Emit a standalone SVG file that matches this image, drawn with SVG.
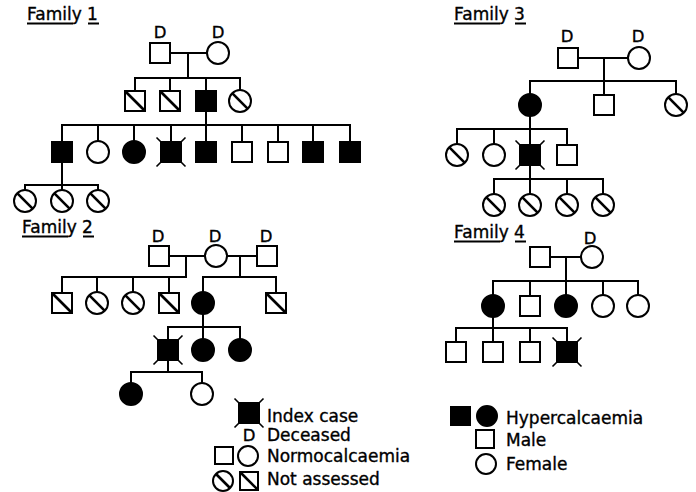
<svg xmlns="http://www.w3.org/2000/svg" xmlns:xlink="http://www.w3.org/1999/xlink" width="696" height="492" viewBox="0 0 696 492">
<style>
text{font-family:"DejaVu Sans",sans-serif;fill:#000;stroke:#000;stroke-width:0.35}
.t{font-size:17px}
.d{font-size:16.5px;text-anchor:middle}
.c line,.u{stroke:#000;stroke-width:2;fill:none}
.s{fill:#fff;stroke:#000;stroke-width:2}
.f{fill:#000;stroke:#000;stroke-width:2}
.h{stroke:#000;stroke-width:2.6}
</style>
<defs>
<g id="sq"><rect class="s" x="-10" y="-10" width="20" height="20"/></g>
<g id="sqf"><rect class="f" x="-10" y="-10" width="20" height="20"/></g>
<g id="sqh"><rect class="s" x="-10" y="-10" width="20" height="20"/><line class="h" x1="-10" y1="-10" x2="10" y2="10"/></g>
<g id="ci"><circle class="s" r="11"/></g>
<g id="cif"><circle class="f" r="11"/></g>
<g id="cih"><circle class="s" r="11"/><line class="h" x1="-7.6" y1="-7.6" x2="7.6" y2="7.6"/></g>
<g id="idx"><rect class="f" x="-10" y="-10" width="20" height="20"/><path d="M-10-10l-4.5-4.5M10-10l4.5-4.5M-10 10l-4.5 4.5M10 10l4.5 4.5" stroke="#000" stroke-width="1.6"/></g>
</defs>

<!-- titles -->
<g id="titles">
<text class="t" x="27" y="20">Family 1</text>
<line class="u" x1="27" y1="23.5" x2="73" y2="23.5"/><line class="u" x1="88" y1="23.5" x2="99" y2="23.5"/>
<text class="t" x="22" y="233">Family 2</text>
<line class="u" x1="22" y1="236.5" x2="68" y2="236.5"/><line class="u" x1="83" y1="236.5" x2="94" y2="236.5"/>
<text class="t" x="454" y="20">Family 3</text>
<line class="u" x1="454" y1="23.5" x2="500" y2="23.5"/><line class="u" x1="515" y1="23.5" x2="526" y2="23.5"/>
<text class="t" x="454" y="238">Family 4</text>
<line class="u" x1="454" y1="241.5" x2="500" y2="241.5"/><line class="u" x1="515" y1="241.5" x2="526" y2="241.5"/>
</g>

<!-- connectors -->
<g id="connectors" class="c">
<!-- Family 1 -->
<line x1="170" y1="53" x2="207" y2="53"/><line x1="188" y1="53" x2="188" y2="78"/>
<line x1="134" y1="78" x2="241" y2="78"/>
<line x1="135" y1="78" x2="135" y2="91"/><line x1="170" y1="78" x2="170" y2="91"/><line x1="206" y1="78" x2="206" y2="91"/><line x1="240" y1="78" x2="240" y2="90"/>
<line x1="206" y1="111" x2="206" y2="125"/>
<line x1="61" y1="125" x2="351" y2="125"/>
<line x1="62" y1="125" x2="62" y2="142"/><line x1="98" y1="125" x2="98" y2="141"/><line x1="134" y1="125" x2="134" y2="141"/><line x1="171" y1="125" x2="171" y2="142"/><line x1="206" y1="125" x2="206" y2="142"/><line x1="242" y1="125" x2="242" y2="142"/><line x1="278" y1="125" x2="278" y2="142"/><line x1="313" y1="125" x2="313" y2="142"/><line x1="350" y1="125" x2="350" y2="142"/>
<line x1="62" y1="162" x2="62" y2="185"/>
<line x1="24" y1="185" x2="99" y2="185"/>
<line x1="25" y1="185" x2="25" y2="190"/><line x1="62" y1="185" x2="62" y2="190"/><line x1="98" y1="185" x2="98" y2="190"/>
<!-- Family 2 -->
<line x1="169" y1="256" x2="205" y2="256"/><line x1="186" y1="256" x2="186" y2="277"/>
<line x1="227" y1="256" x2="257" y2="256"/><line x1="240" y1="256" x2="240" y2="277"/>
<line x1="61" y1="277" x2="187" y2="277"/>
<line x1="62" y1="277" x2="62" y2="293"/><line x1="97" y1="277" x2="97" y2="292"/><line x1="133" y1="277" x2="133" y2="292"/><line x1="169" y1="277" x2="169" y2="293"/>
<line x1="202" y1="277" x2="277" y2="277"/>
<line x1="203" y1="277" x2="203" y2="292"/><line x1="276" y1="277" x2="276" y2="293"/>
<line x1="203" y1="314" x2="203" y2="327"/>
<line x1="167" y1="327" x2="241" y2="327"/>
<line x1="168" y1="327" x2="168" y2="340"/><line x1="203" y1="327" x2="203" y2="339"/><line x1="240" y1="327" x2="240" y2="339"/>
<line x1="168" y1="360" x2="168" y2="372"/>
<line x1="130" y1="372" x2="203" y2="372"/>
<line x1="131" y1="372" x2="131" y2="383"/><line x1="202" y1="372" x2="202" y2="383"/>
<!-- Family 3 -->
<line x1="578" y1="58" x2="628" y2="58"/><line x1="604" y1="58" x2="604" y2="81"/>
<line x1="529" y1="81" x2="677" y2="81"/>
<line x1="530" y1="81" x2="530" y2="94"/><line x1="604" y1="81" x2="604" y2="95"/><line x1="676" y1="81" x2="676" y2="94"/>
<line x1="530" y1="116" x2="530" y2="129"/>
<line x1="456" y1="129" x2="568" y2="129"/>
<line x1="457" y1="129" x2="457" y2="144"/><line x1="494" y1="129" x2="494" y2="144"/><line x1="530" y1="129" x2="530" y2="145"/><line x1="567" y1="129" x2="567" y2="145"/>
<line x1="530" y1="165" x2="530" y2="179"/>
<line x1="493" y1="179" x2="604" y2="179"/>
<line x1="494" y1="179" x2="494" y2="194"/><line x1="530" y1="179" x2="530" y2="194"/><line x1="567" y1="179" x2="567" y2="194"/><line x1="603" y1="179" x2="603" y2="194"/>
<!-- Family 4 -->
<line x1="550" y1="257" x2="581" y2="257"/><line x1="566" y1="257" x2="566" y2="281"/>
<line x1="492" y1="281" x2="639" y2="281"/>
<line x1="493" y1="281" x2="493" y2="295"/><line x1="530" y1="281" x2="530" y2="296"/><line x1="566" y1="281" x2="566" y2="295"/><line x1="603" y1="281" x2="603" y2="295"/><line x1="638" y1="281" x2="638" y2="295"/>
<line x1="493" y1="317" x2="493" y2="328"/>
<line x1="455" y1="328" x2="568" y2="328"/>
<line x1="456" y1="328" x2="456" y2="342"/><line x1="493" y1="328" x2="493" y2="342"/><line x1="530" y1="328" x2="530" y2="342"/><line x1="567" y1="328" x2="567" y2="342"/>
</g>

<!-- Family 1 nodes -->
<g id="f1-father"><use href="#sq" x="160" y="53"/><text class="d" x="160" y="38">D</text></g>
<g id="f1-mother"><use href="#ci" x="218" y="53"/><text class="d" x="218" y="38">D</text></g>
<g id="f1-g2-1"><use href="#sqh" x="135" y="101"/></g>
<g id="f1-g2-2"><use href="#sqh" x="170" y="101"/></g>
<g id="f1-g2-3"><use href="#sqf" x="206" y="101"/></g>
<g id="f1-g2-4"><use href="#cih" x="240" y="101"/></g>
<g id="f1-g3-1"><use href="#sqf" x="62" y="152"/></g>
<g id="f1-g3-2"><use href="#ci" x="98" y="152"/></g>
<g id="f1-g3-3"><use href="#cif" x="134" y="152"/></g>
<g id="f1-g3-4"><use href="#idx" x="171" y="152"/></g>
<g id="f1-g3-5"><use href="#sqf" x="206" y="152"/></g>
<g id="f1-g3-6"><use href="#sq" x="242" y="152"/></g>
<g id="f1-g3-7"><use href="#sq" x="278" y="152"/></g>
<g id="f1-g3-8"><use href="#sqf" x="313" y="152"/></g>
<g id="f1-g3-9"><use href="#sqf" x="350" y="152"/></g>
<g id="f1-g4-1"><use href="#cih" x="25" y="201"/></g>
<g id="f1-g4-2"><use href="#cih" x="62" y="201"/></g>
<g id="f1-g4-3"><use href="#cih" x="98" y="201"/></g>

<!-- Family 2 nodes -->
<g id="f2-father"><use href="#sq" x="159" y="256"/><text class="d" x="158" y="242">D</text></g>
<g id="f2-mother"><use href="#ci" x="216" y="256"/><text class="d" x="215" y="242">D</text></g>
<g id="f2-husband2"><use href="#sq" x="267" y="256"/><text class="d" x="266" y="242">D</text></g>
<g id="f2-g2-1"><use href="#sqh" x="62" y="303"/></g>
<g id="f2-g2-2"><use href="#cih" x="97" y="303"/></g>
<g id="f2-g2-3"><use href="#cih" x="133" y="303"/></g>
<g id="f2-g2-4"><use href="#sqh" x="169" y="303"/></g>
<g id="f2-g2-5"><use href="#cif" x="203" y="303"/></g>
<g id="f2-g2-6"><use href="#sqh" x="276" y="303"/></g>
<g id="f2-g3-1"><use href="#idx" x="168" y="350"/></g>
<g id="f2-g3-2"><use href="#cif" x="203" y="350"/></g>
<g id="f2-g3-3"><use href="#cif" x="240" y="350"/></g>
<g id="f2-g4-1"><use href="#cif" x="131" y="394"/></g>
<g id="f2-g4-2"><use href="#ci" x="202" y="394"/></g>

<!-- Family 3 nodes -->
<g id="f3-father"><use href="#sq" x="568" y="58"/><text class="d" x="567" y="42">D</text></g>
<g id="f3-mother"><use href="#ci" x="639" y="58"/><text class="d" x="638" y="42">D</text></g>
<g id="f3-g2-1"><use href="#cif" x="530" y="105"/></g>
<g id="f3-g2-2"><use href="#sq" x="604" y="105"/></g>
<g id="f3-g2-3"><use href="#cih" x="676" y="105"/></g>
<g id="f3-g3-1"><use href="#cih" x="457" y="155"/></g>
<g id="f3-g3-2"><use href="#ci" x="494" y="155"/></g>
<g id="f3-g3-3"><use href="#idx" x="530" y="155"/></g>
<g id="f3-g3-4"><use href="#sq" x="567" y="155"/></g>
<g id="f3-g4-1"><use href="#cih" x="494" y="205"/></g>
<g id="f3-g4-2"><use href="#cih" x="530" y="205"/></g>
<g id="f3-g4-3"><use href="#cih" x="567" y="205"/></g>
<g id="f3-g4-4"><use href="#cih" x="603" y="205"/></g>

<!-- Family 4 nodes -->
<g id="f4-father"><use href="#sq" x="540" y="257"/></g>
<g id="f4-mother"><use href="#ci" x="592" y="257"/><text class="d" x="590" y="244">D</text></g>
<g id="f4-g2-1"><use href="#cif" x="493" y="306"/></g>
<g id="f4-g2-2"><use href="#sq" x="530" y="306"/></g>
<g id="f4-g2-3"><use href="#cif" x="566" y="306"/></g>
<g id="f4-g2-4"><use href="#ci" x="603" y="306"/></g>
<g id="f4-g2-5"><use href="#ci" x="638" y="306"/></g>
<g id="f4-g3-1"><use href="#sq" x="456" y="352"/></g>
<g id="f4-g3-2"><use href="#sq" x="493" y="352"/></g>
<g id="f4-g3-3"><use href="#sq" x="530" y="352"/></g>
<g id="f4-g3-4"><use href="#idx" x="567" y="352"/></g>

<!-- Legend -->
<g id="legend">
<use href="#idx" x="249" y="413"/><text class="t" x="267" y="422">Index case</text>
<text class="d" x="249" y="441">D</text><text class="t" x="267" y="441">Deceased</text>
<rect class="s" x="215" y="447" width="18" height="17"/><circle class="s" cx="248" cy="456" r="10"/><text class="t" x="267" y="462">Normocalcaemia</text>
<circle class="s" cx="223" cy="481" r="10"/><line class="h" x1="216" y1="474" x2="230" y2="488"/>
<rect class="s" x="240" y="472" width="18" height="18"/><line class="h" x1="240" y1="472" x2="258" y2="490"/>
<text class="t" x="267" y="485">Not assessed</text>
<rect class="f" x="451" y="407" width="19" height="18"/><circle class="f" cx="487" cy="416" r="10"/><text class="t" x="506" y="424">Hypercalcaemia</text>
<rect class="s" x="476" y="430" width="18" height="18"/><text class="t" x="506" y="446">Male</text>
<circle class="s" cx="486" cy="464" r="10"/><text class="t" x="506" y="470">Female</text>
</g>
</svg>
